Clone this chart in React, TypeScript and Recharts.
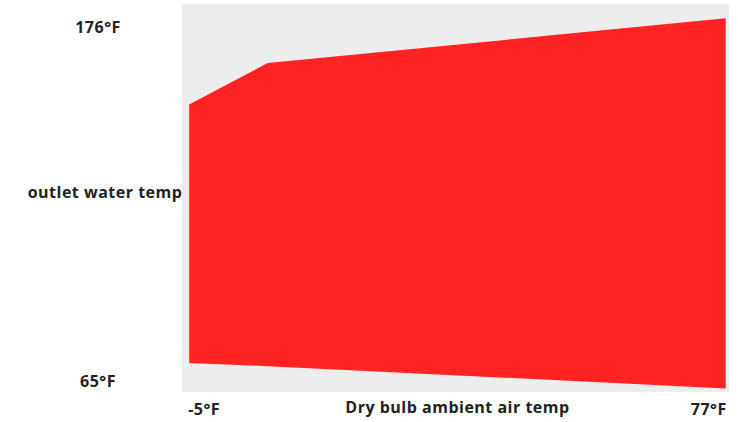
import { AreaChart, Area, XAxis, YAxis, CartesianGrid, Label } from 'recharts'

// dry bulb ambient air temp (°F)
const airTemps = [-5, 7, 77]
// outlet water temp band (°F)
const outletLow = [71, 70, 63]
const outletHigh = [152, 165, 179]

const xTicks = [-5, 77]
const yTicks = [65, 176]

const data = airTemps.map((t, i) => ({ air: t, band: [outletLow[i], outletHigh[i]] }))

const font = '"Open Sans", Lato, sans-serif'
const textColor = '#222'
const fontSize = 16
const spacing = 0.5

function YTick(props: { x?: number; y?: number; payload?: { value: number } }) {
  const { x = 0, y = 0, payload } = props
  return (
    <text
      x={x - 84}
      y={y}
      dy={5}
      textAnchor="middle"
      fill={textColor}
      fontFamily={font}
      fontWeight={700}
      fontSize={fontSize}
      letterSpacing={spacing}
    >
      {`${payload?.value}°F`}
    </text>
  )
}

function XTick(props: { x?: number; y?: number; payload?: { value: number } }) {
  const { x = 0, y = 0, payload } = props
  const first = payload?.value === xTicks[0]
  return (
    <text
      x={first ? x - 1 : x + 1}
      y={y + 23}
      textAnchor={first ? 'start' : 'end'}
      fill={textColor}
      fontFamily={font}
      fontWeight={700}
      fontSize={fontSize}
      letterSpacing={spacing}
    >
      {`${payload?.value}°F`}
    </text>
  )
}

export default function App() {
  return (
    <div style={{ position: 'absolute', left: 0, top: 0, background: '#fff' }}>
      <AreaChart width={738} height={422} data={data} margin={{ top: 4, right: 9, left: 0, bottom: 0 }}>
        <CartesianGrid horizontal={false} vertical={false} fill="#ededed" />
        <XAxis
          dataKey="air"
          type="number"
          domain={[-6.1, 77.5]}
          ticks={xTicks}
          interval={0}
          height={30}
          tickSize={0}
          tickMargin={0}
          axisLine={false}
          tickLine={false}
          tick={<XTick />}
        >
          <Label
            value="Dry bulb ambient air temp"
            position="center"
            dx={2}
            fill={textColor}
            fontFamily={font}
            fontWeight={700}
            fontSize={fontSize}
            letterSpacing={spacing}
          />
        </XAxis>
        <YAxis
          type="number"
          domain={[61.9, 183.5]}
          ticks={yTicks}
          interval={0}
          width={182}
          tickSize={0}
          tickMargin={0}
          axisLine={false}
          tickLine={false}
          tick={<YTick />}
        >
          <Label
            value="outlet water temp"
            position="center"
            dx={14}
            dy={-6}
            fill={textColor}
            fontFamily={font}
            fontWeight={700}
            fontSize={fontSize}
            letterSpacing={spacing}
          />
        </YAxis>
        <Area
          type="linear"
          dataKey="band"
          stroke="none"
          fill="#fe2424"
          fillOpacity={1}
          isAnimationActive={false}
        />
      </AreaChart>
    </div>
  )
}
